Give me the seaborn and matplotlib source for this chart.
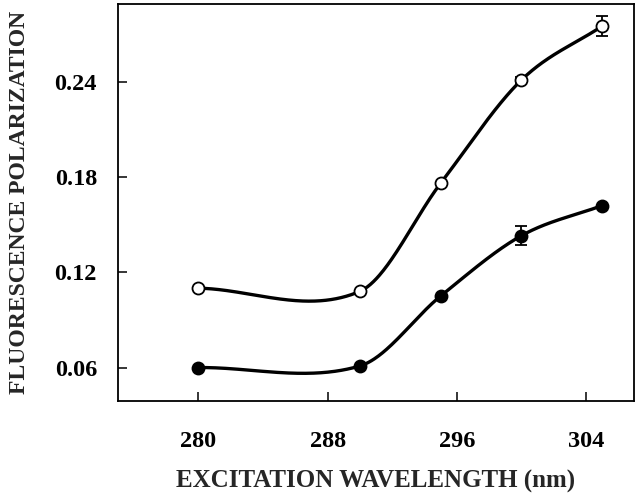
import numpy as np
import pandas as pd
import matplotlib
matplotlib.use("Agg")
import matplotlib.pyplot as plt
import seaborn as sns

wavelength = [280, 290, 295, 300, 305]
open_pol = [0.110, 0.108, 0.176, 0.241, 0.275]
open_err = [0.0, 0.0, 0.0, 0.002, 0.0063]
filled_pol = [0.060, 0.061, 0.105, 0.143, 0.162]
filled_err = [0.0, 0.0, 0.0, 0.006, 0.0]
xticks = [280, 288, 296, 304]
yticks = [0.06, 0.12, 0.18, 0.24]


def hermite_curve(x, y, xs):
    # Catmull-Rom style cubic Hermite through the points
    x = np.asarray(x, float)
    y = np.asarray(y, float)
    n = len(x)
    m = np.empty(n)
    m[0] = (y[1] - y[0]) / (x[1] - x[0])
    m[-1] = (y[-1] - y[-2]) / (x[-1] - x[-2])
    for i in range(1, n - 1):
        m[i] = (y[i + 1] - y[i - 1]) / (x[i + 1] - x[i - 1])
    out = np.empty_like(xs)
    for k, xv in enumerate(xs):
        i = min(max(np.searchsorted(x, xv) - 1, 0), n - 2)
        h = x[i + 1] - x[i]
        t = (xv - x[i]) / h
        h00 = 2 * t**3 - 3 * t**2 + 1
        h10 = t**3 - 2 * t**2 + t
        h01 = -2 * t**3 + 3 * t**2
        h11 = t**3 - t**2
        out[k] = h00 * y[i] + h10 * h * m[i] + h01 * y[i + 1] + h11 * h * m[i + 1]
    return out


sns.set_theme(style="ticks")
plt.rcParams["font.family"] = ["Liberation Serif", "DejaVu Serif"]
plt.rcParams["font.weight"] = "bold"

fig = plt.figure(figsize=(6.4, 4.98), dpi=100)
ax = fig.add_axes([0.184, 0.195, 0.807, 0.797])

xs = np.linspace(wavelength[0], wavelength[-1], 400)
curves = pd.DataFrame({
    "x": np.concatenate([xs, xs]),
    "y": np.concatenate([hermite_curve(wavelength, open_pol, xs),
                         hermite_curve(wavelength, filled_pol, xs)]),
    "s": ["open"] * len(xs) + ["filled"] * len(xs),
})
sns.lineplot(data=curves, x="x", y="y", units="s", estimator=None,
             color="black", lw=2.4, ax=ax, zorder=2)

ax.errorbar(wavelength, open_pol, yerr=open_err, fmt="none", ecolor="black",
            elinewidth=1.3, capsize=4, capthick=1.3, zorder=3)
ax.errorbar(wavelength, filled_pol, yerr=filled_err, fmt="none", ecolor="black",
            elinewidth=1.3, capsize=4, capthick=1.3, zorder=3)

sns.scatterplot(x=wavelength, y=open_pol, marker="o", s=75, color="white",
                edgecolor="black", linewidth=1.3, ax=ax, zorder=4)
sns.scatterplot(x=wavelength, y=filled_pol, marker="o", s=75, color="black",
                edgecolor="black", linewidth=1.3, ax=ax, zorder=4)

ax.set_xlim(275, 307)
ax.set_ylim(0.039, 0.289)
ax.set_xticks(xticks)
ax.set_yticks(yticks)
ax.set_xticklabels([str(t) for t in xticks], fontsize=17.5, fontweight="bold")
ax.set_yticklabels([f"{t:.2f}" for t in yticks], fontsize=17.5, fontweight="bold")
ax.tick_params(axis="both", direction="in", length=6.5, width=1.1, colors="black")
ax.tick_params(axis="x", pad=22)
ax.tick_params(axis="y", pad=15)
for sp in ax.spines.values():
    sp.set_linewidth(1.3)
    sp.set_color("black")

ax.set_xlabel("EXCITATION WAVELENGTH (nm)", fontsize=18, fontweight="bold", va="center")
ax.set_ylabel("FLUORESCENCE POLARIZATION", fontsize=17, fontweight="bold", va="center")
ax.xaxis.set_label_coords(0.5, -0.204)
ax.yaxis.set_label_coords(-0.19, 0.5)

fig.savefig("out.png", dpi=100)
